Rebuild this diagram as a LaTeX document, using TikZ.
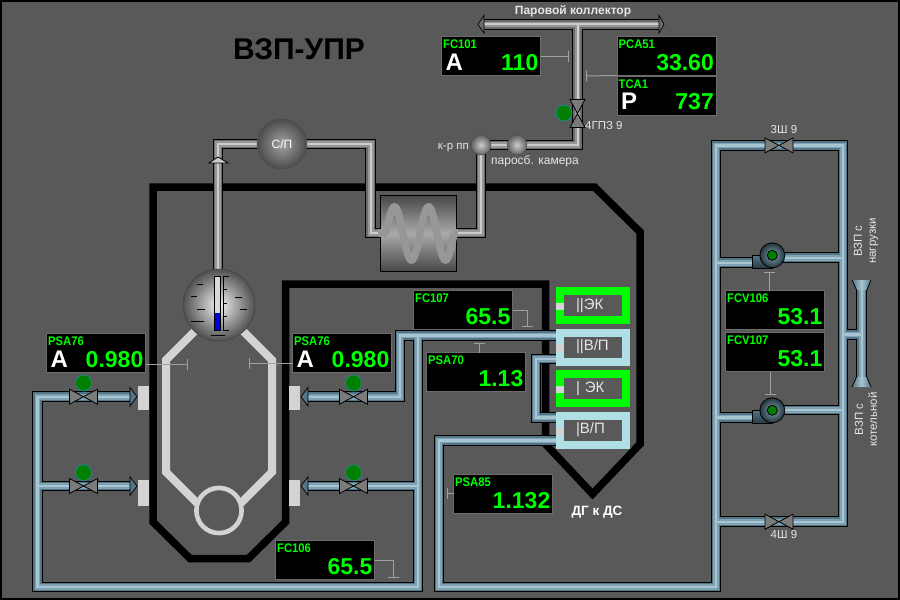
\documentclass[tikz,border=0pt]{standalone}
\usepackage{fontspec}
\setmainfont{Liberation Sans}
\newfontfamily\tagfont[FakeStretch=0.9]{Liberation Sans}
\usetikzlibrary{arrows.meta}

\definecolor{panelgrey}{HTML}{595959}
\definecolor{furnacegrey}{HTML}{D3D3D3}
\definecolor{taggreen}{HTML}{00FF00}
\definecolor{leadgrey}{HTML}{A0A0A0}
\definecolor{labelgrey}{HTML}{E6E6E6}
\definecolor{bluea}{HTML}{537587}
\definecolor{blueb}{HTML}{80A3B3}
\definecolor{bluec}{HTML}{A8C6D1}
\definecolor{greya}{HTML}{6C6C6C}
\definecolor{greyb}{HTML}{979797}
\definecolor{greyc}{HTML}{CCCCCC}
\definecolor{ekgreen}{HTML}{00FF00}
\definecolor{vpblue}{HTML}{B0E0E6}
\definecolor{signalgreen}{HTML}{007F00}
\definecolor{signalrim}{HTML}{1A8A8A}

\tikzset{
	pipeo/.style={ black, line width=10.6pt, line join=miter },
	pipegra/.style={ greya, line width=8.6pt },
	pipegrb/.style={ greyb, line width=5.6pt },
	pipegrc/.style={ greyc, line width=2pt },
	pipebla/.style={ bluea, line width=8.6pt },
	pipeblb/.style={ blueb, line width=5.6pt },
	pipeblc/.style={ bluec, line width=2.4pt },
	panelbox/.style={ rectangle, fill=black, draw=greya, line width=1pt, inner sep=0pt, outer sep=0pt, minimum width=99pt, minimum height=39pt, anchor=north west },
	tagtext/.style={ taggreen, inner sep=0pt, anchor=base west, font=\tagfont\fontsize{12.5}{13}\selectfont\bfseries },
	valtext/.style={ taggreen, inner sep=0pt, anchor=base east, font=\fontsize{23}{24}\selectfont\bfseries },
	lettertext/.style={ white, inner sep=0pt, anchor=base west, font=\fontsize{24}{24}\selectfont\bfseries },
	leader/.style={ leadgrey, line width=1pt, -{Bar[width=11pt,line width=1pt]} },
	plainlabel/.style={ labelgrey, inner sep=0pt, font=\fontsize{11.5}{14}\selectfont },
	signal/.style={ circle, fill=signalgreen, draw=signalrim, line width=0.8pt, inner sep=0pt, minimum size=16pt },
	stagebox/.style={ rectangle, fill=panelgrey, line width=8pt, inner sep=0pt, minimum width=66pt, minimum height=29pt, text width=34pt, align=left, text=labelgrey, font=\fontsize{15}{16}\selectfont },
	stagetab/.style={ rectangle, fill=furnacegrey, inner sep=0pt, minimum width=8pt, minimum height=7pt },
	burner/.style={ rectangle, fill=furnacegrey, inner sep=0pt, minimum width=11pt },
	steamball/.style={ circle, draw=black!70, inner color=greyc, outer color=greya!90!black, inner sep=0pt, minimum size=20pt },
	bluehead/.style={ top color=bluea, middle color=bluec, bottom color=bluea, draw=black, line width=0.7pt },
	greyhead/.style={ top color=greya, middle color=greyc, bottom color=greya, draw=black, line width=0.7pt },
	valvewing/.style={ top color=greya!90!white, middle color=furnacegrey, bottom color=greya!90!white, draw=black, line width=0.8pt }
}

\newcommand{\graypipe}[1]{\foreach \lay in {pipeo,pipegra,pipegrb,pipegrc} \draw[\lay] #1;}
\newcommand{\bluepipe}[1]{\foreach \lay in {pipeo,pipebla,pipeblb,pipeblc} \draw[\lay] #1;}

\begin{document}
\begin{tikzpicture}[x=1pt,y=-1pt]

\useasboundingbox (0,0) rectangle (900,600);
\fill[panelgrey] (0,0) rectangle (900,600);
\draw[black, line width=2pt] (1,1) rectangle (899,599);

% boiler walls
\draw[black, line width=7.5pt, miter limit=10] (153,187) -- (594.5,187) -- (640,232) -- (640,444) -- (592.5,494) -- (545.5,444) -- (545.5,284) -- (285.5,284) -- (285.5,522) -- (248.5,558.5) -- (190,558.5) -- (153,522) -- cycle;
\draw[furnacegrey, line width=8pt] (195,331) -- (166,360) -- (166,472) -- (197,503);
\draw[furnacegrey, line width=8pt] (243,331) -- (272,360) -- (272,472) -- (241,503);
\draw[furnacegrey, line width=4.6pt] (219,510.5) circle (22.6);
\foreach \nm/\px/\py/\ph in {burla/143.5/398/24,burlb/143.5/493/26,burra/294.5/398/24,burrb/294.5/493/26}
	\node[burner, minimum height=\ph pt] at (\px,\py) (\nm) {};

% steam pipes
\graypipe{(218,270) -- (218,144) -- (370.7,144) -- (370.7,233) -- (381,233)}
\graypipe{(484,24.3) -- (659,24.3) (577.5,24.3) -- (577.5,145) -- (481,145) -- (481,233) -- (456,233)}
\foreach \tipa/\tipb/\tipc in {484/478/15.3,659/664/15.3}
	\path[greyhead] (\tipa,\tipc) -- (\tipb,24.3) -- (\tipa,33.3) -- cycle;
\filldraw[fill=greyc, draw=black, line width=0.8pt] (209,163) -- (218,157) -- (228,163) -- cycle;

% water pipes
\bluepipe{(557,335.5) -- (400,335.5) -- (400,396.7) -- (306,396.7) (418,335.5) -- (418,587) -- (37.5,587) -- (37.5,396.7) -- (130,396.7) (37.5,486) -- (130,486) (418,486) -- (306,486)}
\bluepipe{(557,359) -- (536,359) -- (536,417.3) -- (557,417.3)}
\bluepipe{(557,440.3) -- (439,440.3) -- (439,587) -- (716,587) -- (716,145.4) -- (843,145.4) -- (843,521.7) -- (716,521.7) (716,262.7) -- (772,262.7) (772,257.7) -- (843,257.7) (716,417.3) -- (772,417.3) (772,410) -- (843,410) (843,334.3) -- (861.7,334.3) (861.7,290) -- (861.7,377)}
\foreach \tx/\py/\rt in {137/396.7/0,137/486/0,301/396.7/180,301/486/180}
	\path[bluehead, shift={(\tx,\py)}, rotate=\rt] (-7,-9.3) -- (0,0) -- (-7,9.3) -- cycle;
\foreach \py/\pz in {280/290,387/377} {
	\path[left color=bluea, right color=bluea, middle color=bluec] (852,\py) -- (871,\py) -- (866.8,\pz) -- (856.6,\pz) -- cycle;
	\draw[black, line width=0.8pt] (852,\py) -- (856.6,\pz) (871,\py) -- (866.8,\pz);
}

% valves
\foreach \px/\py/\rt in {83.5/396.7/0,83.5/486/0,353.5/396.7/0,353.5/486/0,779/145.4/0,779/521.7/0,577.5/113.5/90} {
	\begin{scope}[shift={(\px,\py)}, rotate=\rt]
		\path[valvewing] (-14,-7.5) -- (0,0) -- (-14,7.5) -- cycle;
		\path[valvewing] (14,-7.5) -- (0,0) -- (14,7.5) -- cycle;
	\end{scope}
}
\foreach \nm/\px/\py in {siga/83.5/383,sigb/83.5/472.7,sigc/353.5/383,sigd/353.5/472.7,sige/564/113}
	\node[signal] at (\px,\py) (\nm) {};

% pumps
\foreach \nm/\py in {pumpa/255.3,pumpb/410.3} {
	\path[top color=bluea, bottom color=black!50!bluea, draw=black, line width=0.8pt] (752.5,\py) rectangle (772,\py+13);
	\node[circle, inner color=blueb, outer color=black!55!bluea, draw=black, line width=0.8pt, inner sep=0pt, minimum size=25pt] at (772.3,\py) (\nm) {};
	\node[circle, fill=signalgreen, draw=black, line width=0.8pt, inner sep=0pt, minimum size=10pt] at (\nm) (\nm c) {};
}

% drum
\node[circle, draw=black!75, inner color=white!95!black, outer color=panelgrey!90!black, inner sep=0pt, minimum size=72pt] at (219,305) (drum) {};
\draw[black, fill=white!85!black, line width=0.9pt] (214.5,276) rectangle (220.7,330.7);
\fill[blue!85!black] (215,313) rectangle (220.2,330.2);
\draw[black, line width=0.8pt] (229,276) -- (223.3,276) -- (223.3,330.5) -- (229,330.5);
\foreach \py in {289,303,316} \draw[black, line width=0.8pt] (223.3,\py) -- (227,\py);
\foreach \xa/\xb/\py in {197/203/284,191/197/296,197/205/309,191/204/321,235/242/297,240/247/309,211/225/335}
	\draw[black, line width=0.8pt] (\xa,\py) -- (\xb,\py);

% separator and heater
\node[circle, draw=black!70, inner color=greyb!90!white, outer color=panelgrey!85!black, inner sep=0pt, minimum size=50pt, text=white, font=\fontsize{12}{12}\selectfont] at (282,144) (sep) {С/П};
\node[rectangle, draw=black, line width=0.9pt, top color=panelgrey!80!black, bottom color=panelgrey!80!black, middle color=leadgrey!90!white, inner sep=0pt, minimum width=76pt, minimum height=76pt] at (418.5,233.3) (coilbox) {};
\draw[greyb, line width=7.5pt] plot[domain=386:454, samples=90] (\x, {233.5-26.5*sin((\x-386)/34*360)});
\draw[greyb, line width=7.5pt] (378,233) -- (387,233) (453,233) -- (458,233);
\node[steamball] at (481,145) (kr) {};
\node[steamball] at (517,145) (ps) {};

% stage boxes
\foreach \nm/\py/\colr/\txt in {eka/305.3/ekgreen/{||ЭК},vpa/347/vpblue/{||В/П},ekb/388.3/ekgreen/{| ЭК},vpb/430/vpblue/{|В/П}} {
	\node[stagebox, draw=\colr] at (593,\py) (\nm) {\txt};
	\node[stagetab] at (560,\py+1) (\nm tab) {};
}

% readouts
\foreach \nm/\px/\py/\tg/\letr/\val in {fca/441.5/36.5/FC101/A/110,pca/617/36.5/PCA51//33.60,tca/617/76/TCA1/P/737,psaa/46.5/333.5/PSA76/A/0.980,psab/292.5/333.5/PSA76/A/0.980,fcb/413.5/290.5/FC107//65.5,psac/426.5/352.5/PSA70//1.13,psad/453.5/474.5/PSA85//1.132,fcc/275.5/540.5/FC106//65.5,fcva/725.5/290.5/FCV106//53.1,fcvb/725.5/332.5/FCV107//53.1} {
	\node[panelbox] at (\px,\py) (\nm) {};
	\node[tagtext, xshift=1.5pt, yshift=-12.3pt] at (\nm.north west) (\nm t) {\tg};
	\node[valtext, xshift=-2pt, yshift=5.3pt] at (\nm.south east) (\nm v) {\val};
	\node[lettertext, xshift=4pt, yshift=5.3pt] at (\nm.south west) (\nm l) {\letr};
}

\coordinate (fcaend) at (569,56);
\coordinate (pcaend) at (586,76);
\coordinate (psaaend) at (188,364);
\coordinate (psabend) at (248.5,363.5);
\coordinate (fcbend) at (527,327);
\coordinate (psacend) at (479,343);
\coordinate (psadend) at (447,493);
\coordinate (fccend) at (393,578);
\coordinate (fcvaend) at (769,272);
\coordinate (fcvbend) at (770.5,395);
\draw[leader] (fca.east) -- (fcaend);
\draw[leader] (pca.south west) -- (pcaend);
\draw[leader] (psaa.east |- psaaend) -- (psaaend);
\draw[leader] (psab.west |- psabend) -- (psabend);
\draw[leader] (fcb.east) -| (fcbend);
\draw[leader] (psac.north -| psacend) -- (psacend);
\draw[leader] (psad.west |- psadend) -- (psadend);
\draw[leader] (fcc.east) -| (fccend);
\draw[leader] (fcva.north -| fcvaend) -- (fcvaend);
\draw[leader] (fcvb.south -| fcvbend) -- (fcvbend);

% labels
\node[inner sep=0pt, black, font=\fontsize{30}{31}\selectfont\bfseries] at (299,49) (title) {ВЗП-УПР};
\node[inner sep=0pt, labelgrey, font=\fontsize{12}{13}\selectfont\bfseries] at (573,11.5) (collector) {Паровой коллектор};
\node[inner sep=0pt, white, font=\fontsize{13.5}{14}\selectfont\bfseries] at (597,512) (flue) {ДГ к ДС};
\node[plainlabel, anchor=base west] at (585,129) (lbgpz) {4ГПЗ 9};
\node[plainlabel, anchor=base east] at (469,149) (lbkr) {к-р пп};
\node[plainlabel, font=\fontsize{12}{14}\selectfont, anchor=base west] at (491,164) (lbps) {паросб. камера};
\node[plainlabel] at (784,130) (lbsha) {3Ш 9};
\node[plainlabel] at (784,535) (lbshb) {4Ш 9};
\node[plainlabel, rotate=90, align=center] at (866,241) (lbload) {ВЗП с\\нагрузки};
\node[plainlabel, rotate=90, align=center] at (866,419.5) (lbbhouse) {ВЗП с\\котельной};

\end{tikzpicture}
\end{document}
